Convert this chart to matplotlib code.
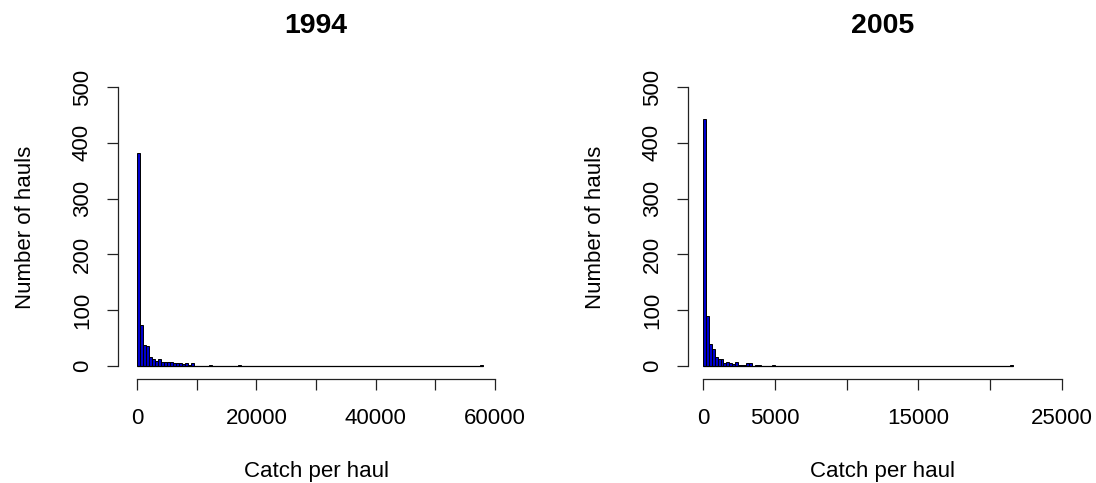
import numpy as np
import matplotlib.pyplot as plt

plt.rcParams['font.family'] = ['Liberation Sans', 'DejaVu Sans']

# 1994: bins of 500 from 0 to 58000
width_1994 = 500
nbins_1994 = 116
head_1994 = [382, 73, 37, 35, 17, 12, 9, 12, 7, 7, 7, 7, 5, 5, 6, 4, 5, 2, 5]
extra_bins_1994 = [24, 34, 115]
extra_counts_1994 = [2, 2, 1]

# 2005: bins of 200 from 0 to 21600
width_2005 = 200
nbins_2005 = 108
head_2005 = [443, 90, 39, 30, 16, 13, 12, 6, 8, 5, 4, 8, 2, 2, 2, 5, 5, 0, 2, 2, 0, 0, 0, 0, 2]
extra_bins_2005 = [107]
extra_counts_2005 = [1]

ticks_1994 = [0, 10000, 20000, 30000, 40000, 50000, 60000]
labels_1994 = ['0', '', '20000', '', '40000', '', '60000']
ticks_2005 = [0, 5000, 10000, 15000, 20000, 25000]
labels_2005 = ['0', '5000', '', '15000', '', '25000']


def counts(nbins, head, extra_bins, extra_counts):
    c = np.zeros(nbins)
    c[:len(head)] = head
    c[extra_bins] = extra_counts
    return c


W, H = 1096, 483
fig = plt.figure(figsize=(W / 100, H / 100), dpi=100)


def panel(left, right, xlim, width, nbins, cnt, ticks, labels, title):
    bottom, top = 379, 76
    ax = fig.add_axes([left / W, (H - bottom) / H, (right - left) / W, (bottom - top) / H])
    edges = np.arange(nbins) * width
    ax.bar(edges, cnt, width=width, align='edge', color='#0000CD',
           edgecolor='black', linewidth=0.7)
    # empty bins still show their border along zero
    ax.hlines(0, edges[0], edges[-1] + width, color='black', linewidth=0.9)
    ax.set_xlim(*xlim)
    ax.set_ylim(-23.3, 520)
    for s in ['top', 'right']:
        ax.spines[s].set_visible(False)
    ax.spines['left'].set_bounds(0, 500)
    ax.spines['bottom'].set_bounds(ticks[0], ticks[-1])
    for s in ['left', 'bottom']:
        ax.spines[s].set_linewidth(0.9)
        ax.spines[s].set_color('#222222')
    ax.set_xticks(ticks)
    ax.set_xticklabels(labels)
    ax.set_yticks([0, 100, 200, 300, 400, 500])
    ax.set_yticklabels(['0', '100', '200', '300', '400', '500'], rotation=90, va='center')
    ax.tick_params(axis='both', length=8, width=0.9, color='#222222', labelsize=16)
    ax.tick_params(axis='x', pad=13)
    ax.tick_params(axis='y', pad=10)
    ax.set_xlabel('Catch per haul', fontsize=16, labelpad=23)
    ax.set_ylabel('Number of hauls', fontsize=16, labelpad=26)
    ax.set_title(title, fontsize=20.5, fontweight='bold', pad=31)
    return ax


c94 = counts(nbins_1994, head_1994, extra_bins_1994, extra_counts_1994)
c05 = counts(nbins_2005, head_2005, extra_bins_2005, extra_counts_2005)

# data 0 sits 19 px right of the y axis in the left panel, 15 px in the right one
panel(118, 514, (-3184, 63184), width_1994, nbins_1994, c94, ticks_1994, labels_1994, '1994')
panel(688, 1077, (-1067, 26067), width_2005, nbins_2005, c05, ticks_2005, labels_2005, '2005')

fig.savefig('out.png', dpi=100)
